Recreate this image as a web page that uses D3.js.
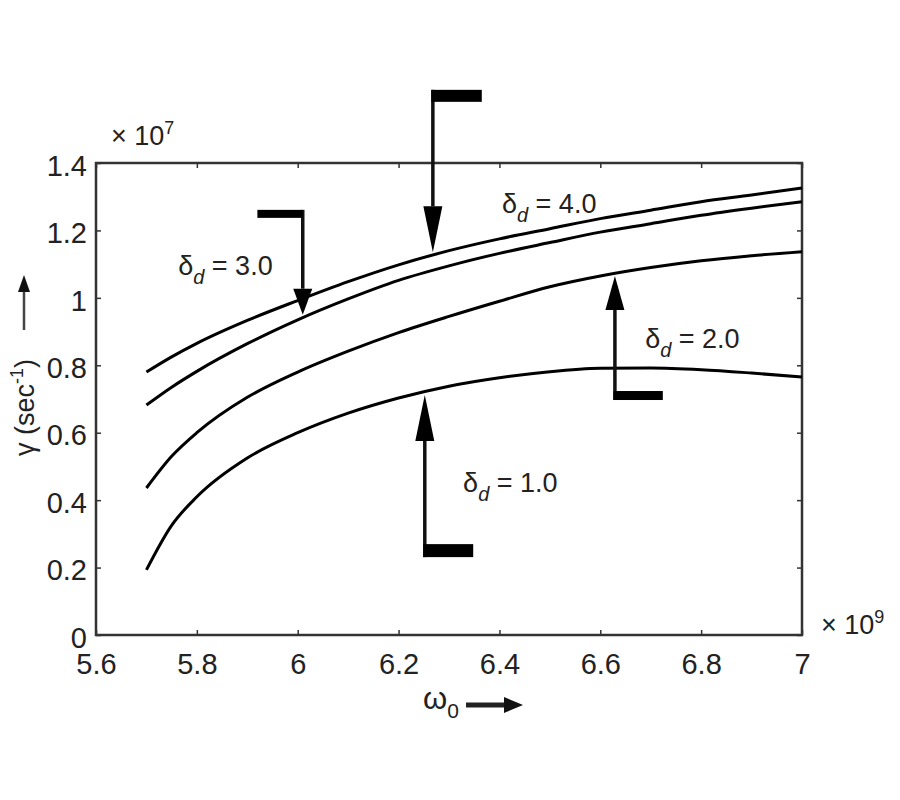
<!DOCTYPE html>
<html>
<head>
<meta charset="utf-8">
<script src="https://cdn.jsdelivr.net/npm/d3@7"></script>
<style>
  body { margin: 0; background: #fff; }
  text { font-family: "Liberation Sans", Arial, sans-serif; fill: #222; }
</style>
</head>
<body>
<div class="chart"></div>
<script>
// curves (omega in 1e9, gamma in 1e7)
var omega  = [5.7, 5.75, 5.8, 5.9, 6.0, 6.1, 6.2, 6.3, 6.4, 6.5, 6.6, 6.7, 6.8, 6.9, 7.0];
var gamma4 = [0.780, 0.825, 0.865, 0.933, 0.992, 1.048, 1.098, 1.140, 1.175, 1.205, 1.235, 1.260, 1.285, 1.305, 1.326];
var gamma3 = [0.682, 0.735, 0.782, 0.864, 0.935, 0.997, 1.052, 1.095, 1.132, 1.164, 1.195, 1.220, 1.245, 1.266, 1.285];
var gamma2 = [0.436, 0.530, 0.600, 0.705, 0.780, 0.842, 0.897, 0.945, 0.990, 1.033, 1.065, 1.090, 1.110, 1.125, 1.137];
var gamma1 = [0.193, 0.325, 0.410, 0.525, 0.600, 0.658, 0.703, 0.738, 0.763, 0.781, 0.791, 0.792, 0.787, 0.777, 0.765];

var xTicks = [5.6, 5.8, 6, 6.2, 6.4, 6.6, 6.8, 7];
var yTicks = [0, 0.2, 0.4, 0.6, 0.8, 1, 1.2, 1.4];

// annotation anchors, in data units
var annValues     = ["4.0", "3.0", "2.0", "1.0"];
var annTipOmega   = [6.268, 6.010, 6.629, 6.252];
var annTipGamma   = [1.135, 0.950, 1.065, 0.712];
var annTailGamma  = [1.617, 1.261, 0.697, 0.231];
var annBarOmega   = [6.365, 5.923, 6.724, 6.348];
var annTextOmega  = [6.405, 5.763, 6.689, 6.328];
var annTextGamma  = [1.252, 1.068, 0.851, 0.424];

var W = 900, H = 800;
var plot = {left: 96, top: 163, right: 802, bottom: 635};

var x = d3.scaleLinear().domain([5.6, 7]).range([plot.left, plot.right]);
var y = d3.scaleLinear().domain([0, 1.4]).range([plot.bottom, plot.top]);

var svg = d3.select(".chart").append("svg")
  .attr("width", W)
  .attr("height", H);

var axisColor = "#333";

// axes, ticks pointing inward on all four sides
var gBottom = svg.append("g")
  .attr("transform", `translate(0, ${plot.bottom})`)
  .call(d3.axisBottom(x).tickValues(xTicks).tickFormat(d3.format("~g"))
    .tickSizeInner(-5).tickSizeOuter(0).tickPadding(18));
var gLeft = svg.append("g")
  .attr("transform", `translate(${plot.left}, 0)`)
  .call(d3.axisLeft(y).tickValues(yTicks).tickFormat(d3.format("~g"))
    .tickSizeInner(-5).tickSizeOuter(0).tickPadding(9));
var gTop = svg.append("g")
  .attr("transform", `translate(0, ${plot.top})`)
  .call(d3.axisTop(x).tickValues(xTicks).tickFormat("")
    .tickSizeInner(-5).tickSizeOuter(0));
var gRight = svg.append("g")
  .attr("transform", `translate(${plot.right}, 0)`)
  .call(d3.axisRight(y).tickValues(yTicks).tickFormat("")
    .tickSizeInner(-5).tickSizeOuter(0));

[gBottom, gLeft, gTop, gRight].forEach(function(g) {
  g.select(".domain").remove();
  g.selectAll(".tick line").attr("stroke", axisColor).attr("stroke-width", 1.5);
  g.selectAll("text")
    .attr("font-family", "Liberation Sans, Arial, sans-serif")
    .attr("font-size", 29)
    .attr("fill", "#222");
});
gLeft.selectAll("text").attr("dy", "0.42em");

svg.append("rect")
  .attr("x", plot.left)
  .attr("y", plot.top)
  .attr("width", plot.right - plot.left)
  .attr("height", plot.bottom - plot.top)
  .attr("fill", "none")
  .attr("stroke", axisColor)
  .attr("stroke-width", 2.5);

// exponent labels
var exp7 = svg.append("text")
  .attr("x", 111).attr("y", 145)
  .attr("font-size", 27);
exp7.append("tspan").text("× 10");
exp7.append("tspan").attr("font-size", 18).attr("dy", -11).text("7");

var exp9 = svg.append("text")
  .attr("x", 821).attr("y", 634)
  .attr("font-size", 27);
exp9.append("tspan").text("× 10");
exp9.append("tspan").attr("font-size", 18).attr("dy", -11).text("9");

// curves
var line = d3.line()
  .curve(d3.curveMonotoneX)
  .x(d => x(d[0]))
  .y(d => y(d[1]));

var series = [gamma1, gamma2, gamma3, gamma4];
svg.selectAll(".curve")
  .data(series)
  .enter().append("path")
    .attr("class", "curve")
    .attr("d", g => line(omega.map((w, i) => [w, g[i]])))
    .attr("fill", "none")
    .attr("stroke", "#000")
    .attr("stroke-width", 3);

// annotation arrows with flags
var headLen = [46, 26, 34, 46];
var headHalf = 9.5;
var barThick = [12, 8, 9, 13];

annValues.forEach(function(v, i) {
  var tx = x(annTipOmega[i]), ty = y(annTipGamma[i]);
  var tailY = y(annTailGamma[i]);
  var dir = tailY < ty ? -1 : 1; // -1: arrow points down (tail above)
  var baseY = ty + dir * headLen[i];

  svg.append("line")
    .attr("x1", tx).attr("x2", tx)
    .attr("y1", tailY).attr("y2", baseY)
    .attr("stroke", "#111")
    .attr("stroke-width", 3.5);

  svg.append("path")
    .attr("d", `M${tx},${ty}L${tx - headHalf},${baseY}L${tx + headHalf},${baseY}Z`)
    .attr("fill", "#000");

  var bx = x(annBarOmega[i]);
  svg.append("rect")
    .attr("x", Math.min(tx, bx) - 1.5)
    .attr("width", Math.abs(bx - tx) + 1.5)
    .attr("y", dir < 0 ? tailY : tailY - barThick[i])
    .attr("height", barThick[i])
    .attr("fill", "#000");

  var t = svg.append("text")
    .attr("x", x(annTextOmega[i]))
    .attr("y", y(annTextGamma[i]))
    .attr("font-size", 27);
  t.append("tspan").text("δ");
  t.append("tspan").attr("font-size", 20).attr("font-style", "italic").attr("dy", 9).text("d");
  t.append("tspan").attr("dy", -9).text(" = " + v);
});

// x axis label: omega_0 with arrow
var xl = svg.append("text")
  .attr("x", 423).attr("y", 709)
  .attr("font-size", 31);
xl.append("tspan").text("ω");
xl.append("tspan").attr("font-size", 21).attr("dy", 9).text("0");

svg.append("line")
  .attr("x1", 466).attr("x2", 506)
  .attr("y1", 705).attr("y2", 705)
  .attr("stroke", "#222").attr("stroke-width", 5);
svg.append("path")
  .attr("d", "M523,705L504,697L504,713Z")
  .attr("fill", "#111");

// y axis label: gamma (sec^-1) with arrow, rotated
var yl = svg.append("text")
  .attr("transform", "translate(34, 456) rotate(-90)")
  .attr("font-size", 27);
yl.append("tspan").text("γ (sec");
yl.append("tspan").attr("font-size", 18).attr("dy", -11).text("-1");
yl.append("tspan").attr("dy", 11).text(")");

svg.append("line")
  .attr("x1", 24).attr("x2", 24)
  .attr("y1", 330).attr("y2", 290)
  .attr("stroke", "#444").attr("stroke-width", 2.5);
svg.append("path")
  .attr("d", "M24,275L18,292L30,292Z")
  .attr("fill", "#111");
</script>
</body>
</html>
